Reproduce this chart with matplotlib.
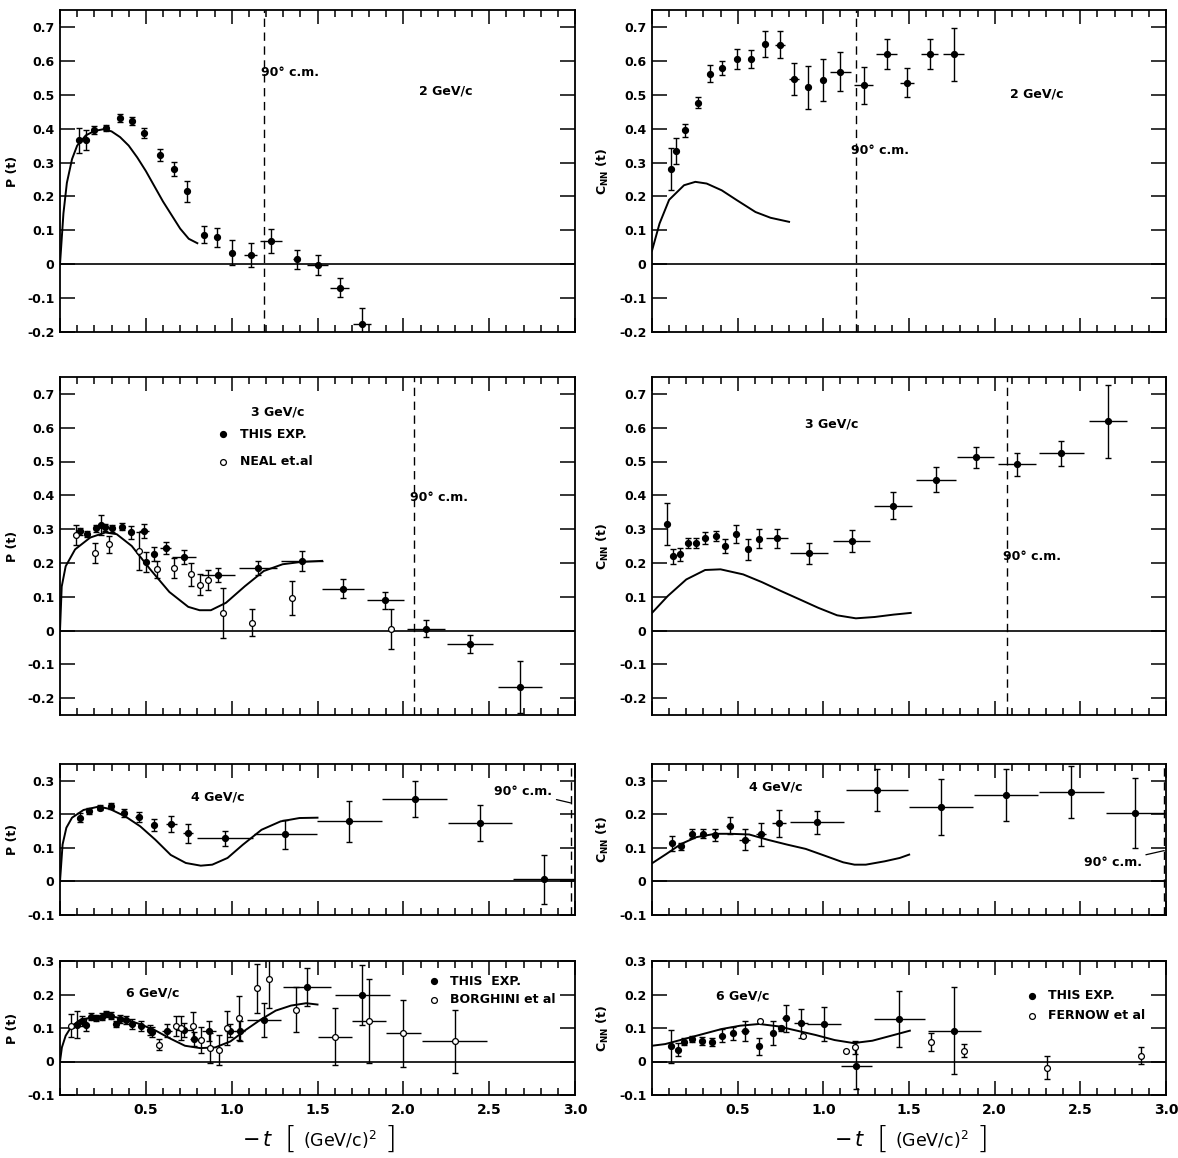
import matplotlib
matplotlib.use('Agg')
import matplotlib.pyplot as plt
from matplotlib.ticker import MultipleLocator, FixedLocator, FuncFormatter

plt.rcParams['font.family'] = ['DejaVu Sans']
plt.rcParams['mathtext.fontset'] = 'dejavusans'

# ---------------- data ----------------
# 2 GeV/c, polarization
p2_t = [0.11, 0.15, 0.20, 0.27, 0.35, 0.42, 0.49, 0.58, 0.665, 0.74, 0.84, 0.915, 1.0, 1.11, 1.23, 1.38, 1.50, 1.63, 1.76]
p2_p = [0.365, 0.367, 0.396, 0.402, 0.432, 0.422, 0.386, 0.323, 0.281, 0.215, 0.087, 0.079, 0.034, 0.028, 0.069, 0.015, -0.002, -0.069, -0.175]
p2_dp = [0.038, 0.03, 0.012, 0.01, 0.012, 0.012, 0.015, 0.018, 0.022, 0.03, 0.025, 0.028, 0.037, 0.035, 0.035, 0.028, 0.03, 0.027, 0.045]
p2_dt = [0.0, 0.015, 0.015, 0.015, 0.015, 0.015, 0.015, 0.015, 0.015, 0.015, 0.015, 0.015, 0.015, 0.04, 0.064, 0.02, 0.064, 0.055, 0.053]
p2_th_t = [0.0, 0.02, 0.04, 0.07, 0.10, 0.15, 0.20, 0.25, 0.30, 0.35, 0.40, 0.45, 0.50, 0.55, 0.60, 0.65, 0.70, 0.75, 0.80]
p2_th_p = [0.0, 0.15, 0.24, 0.31, 0.35, 0.38, 0.393, 0.398, 0.392, 0.375, 0.35, 0.315, 0.275, 0.23, 0.185, 0.145, 0.105, 0.075, 0.062]

# 2 GeV/c, C_NN
c2_t = [0.11, 0.14, 0.193, 0.27, 0.336, 0.41, 0.494, 0.578, 0.66, 0.745, 0.83, 0.91, 0.998, 1.10, 1.235, 1.37, 1.49, 1.62, 1.76]
c2_c = [0.28, 0.334, 0.395, 0.477, 0.562, 0.579, 0.606, 0.606, 0.65, 0.647, 0.547, 0.522, 0.543, 0.568, 0.528, 0.62, 0.535, 0.62, 0.62]
c2_dc = [0.062, 0.037, 0.02, 0.017, 0.025, 0.022, 0.029, 0.027, 0.038, 0.04, 0.048, 0.064, 0.062, 0.058, 0.055, 0.043, 0.043, 0.043, 0.078]
c2_dt = [0.0, 0.015, 0.015, 0.015, 0.015, 0.015, 0.015, 0.015, 0.015, 0.03, 0.03, 0.015, 0.015, 0.064, 0.055, 0.06, 0.04, 0.05, 0.06]
c2_th_t = [0.0, 0.044, 0.10, 0.187, 0.253, 0.319, 0.407, 0.495, 0.604, 0.692, 0.80]
c2_th_c = [0.04, 0.12, 0.19, 0.233, 0.243, 0.238, 0.218, 0.189, 0.154, 0.137, 0.125]

# 3 GeV/c, polarization
p3_t = [0.114, 0.158, 0.209, 0.237, 0.26, 0.303, 0.363, 0.413, 0.488, 0.50, 0.55, 0.615, 0.72, 0.919, 1.154, 1.41, 1.648, 1.894, 2.13, 2.39, 2.68]
p3_p = [0.293, 0.285, 0.302, 0.313, 0.305, 0.302, 0.307, 0.29, 0.295, 0.203, 0.226, 0.245, 0.218, 0.164, 0.185, 0.206, 0.124, 0.09, 0.005, -0.04, -0.167]
p3_dp = [0.01, 0.008, 0.01, 0.03, 0.01, 0.01, 0.01, 0.02, 0.02, 0.03, 0.02, 0.018, 0.02, 0.02, 0.022, 0.03, 0.027, 0.025, 0.025, 0.027, 0.078]
p3_dt = [0.015, 0.015, 0.015, 0.015, 0.015, 0.015, 0.015, 0.015, 0.03, 0.015, 0.015, 0.03, 0.07, 0.1, 0.11, 0.12, 0.12, 0.107, 0.11, 0.135, 0.13]
neal_t = [0.095, 0.204, 0.286, 0.46, 0.567, 0.666, 0.765, 0.813, 0.864, 0.952, 1.12, 1.354, 1.928]
neal_p = [0.283, 0.23, 0.255, 0.235, 0.181, 0.184, 0.166, 0.136, 0.149, 0.052, 0.023, 0.095, 0.005]
neal_dp = [0.03, 0.03, 0.025, 0.055, 0.025, 0.03, 0.035, 0.03, 0.03, 0.075, 0.04, 0.05, 0.06]
p3_th_t = [0.0, 0.01, 0.033, 0.088, 0.176, 0.264, 0.33, 0.418, 0.527, 0.637, 0.747, 0.813, 0.879, 0.967, 1.077, 1.187, 1.297, 1.407, 1.527]
p3_th_p = [0.0, 0.13, 0.19, 0.24, 0.275, 0.29, 0.285, 0.25, 0.18, 0.114, 0.07, 0.06, 0.06, 0.082, 0.131, 0.176, 0.196, 0.203, 0.206]

# 3 GeV/c, C_NN
c3_t = [0.088, 0.125, 0.165, 0.209, 0.257, 0.308, 0.374, 0.426, 0.488, 0.558, 0.624, 0.73, 0.917, 1.165, 1.407, 1.657, 1.89, 2.13, 2.39, 2.66]
c3_c = [0.315, 0.22, 0.225, 0.26, 0.26, 0.273, 0.28, 0.25, 0.285, 0.24, 0.272, 0.273, 0.228, 0.265, 0.369, 0.446, 0.512, 0.492, 0.524, 0.619]
c3_dc = [0.063, 0.022, 0.018, 0.015, 0.015, 0.018, 0.015, 0.02, 0.027, 0.03, 0.028, 0.028, 0.03, 0.033, 0.04, 0.037, 0.032, 0.034, 0.037, 0.108]
c3_dt = [0.0, 0.015, 0.015, 0.015, 0.015, 0.015, 0.015, 0.015, 0.015, 0.015, 0.015, 0.065, 0.11, 0.11, 0.11, 0.115, 0.107, 0.11, 0.13, 0.11]
c3_th_t = [0.0, 0.092, 0.20, 0.31, 0.40, 0.532, 0.642, 0.752, 0.862, 0.971, 1.08, 1.19, 1.30, 1.41, 1.51]
c3_th_c = [0.052, 0.102, 0.151, 0.179, 0.181, 0.166, 0.143, 0.117, 0.092, 0.067, 0.045, 0.036, 0.04, 0.047, 0.052]

# 4 GeV/c, polarization
p4_t = [0.119, 0.17, 0.232, 0.298, 0.375, 0.459, 0.547, 0.649, 0.746, 0.962, 1.313, 1.686, 2.066, 2.448, 2.819]
p4_p = [0.19, 0.21, 0.22, 0.225, 0.205, 0.193, 0.169, 0.171, 0.143, 0.129, 0.141, 0.179, 0.246, 0.174, 0.007]
p4_dp = [0.013, 0.01, 0.008, 0.01, 0.012, 0.015, 0.018, 0.024, 0.027, 0.022, 0.043, 0.062, 0.053, 0.054, 0.073]
p4_dt = [0.01, 0.01, 0.01, 0.01, 0.015, 0.02, 0.015, 0.03, 0.03, 0.165, 0.185, 0.187, 0.188, 0.187, 0.18]
p4_th_t = [0.0, 0.015, 0.037, 0.07, 0.137, 0.225, 0.29, 0.38, 0.468, 0.556, 0.645, 0.733, 0.82, 0.887, 0.976, 1.064, 1.174, 1.285, 1.395, 1.50]
p4_th_p = [0.0, 0.11, 0.16, 0.19, 0.213, 0.223, 0.216, 0.194, 0.164, 0.124, 0.079, 0.055, 0.047, 0.05, 0.07, 0.109, 0.154, 0.179, 0.189, 0.19]

# 4 GeV/c, C_NN
c4_t = [0.116, 0.171, 0.233, 0.299, 0.369, 0.453, 0.54, 0.637, 0.743, 0.963, 1.314, 1.688, 2.066, 2.448, 2.82]
c4_c = [0.114, 0.105, 0.142, 0.142, 0.139, 0.166, 0.125, 0.14, 0.173, 0.176, 0.272, 0.221, 0.258, 0.267, 0.204]
c4_dc = [0.022, 0.01, 0.013, 0.013, 0.017, 0.025, 0.03, 0.035, 0.04, 0.034, 0.062, 0.084, 0.077, 0.078, 0.103]
c4_dt = [0.01, 0.015, 0.01, 0.01, 0.01, 0.02, 0.03, 0.03, 0.04, 0.157, 0.18, 0.187, 0.189, 0.189, 0.17]
c4_th_t = [0.0, 0.084, 0.171, 0.259, 0.369, 0.457, 0.567, 0.677, 0.787, 0.897, 1.007, 1.116, 1.182, 1.248, 1.358, 1.446, 1.501]
c4_th_c = [0.054, 0.082, 0.112, 0.132, 0.142, 0.142, 0.14, 0.124, 0.11, 0.097, 0.077, 0.057, 0.05, 0.05, 0.06, 0.07, 0.08]

# 6 GeV/c, polarization
p6_t = [0.10, 0.128, 0.15, 0.181, 0.21, 0.243, 0.27, 0.298, 0.326, 0.348, 0.386, 0.419, 0.474, 0.523, 0.536, 0.622, 0.724, 0.783, 0.867, 0.993, 1.048, 1.187, 1.44, 1.76]
p6_p = [0.11, 0.122, 0.11, 0.134, 0.13, 0.134, 0.142, 0.137, 0.112, 0.127, 0.125, 0.112, 0.107, 0.094, 0.087, 0.092, 0.094, 0.067, 0.092, 0.092, 0.092, 0.124, 0.223, 0.198]
p6_dp = [0.04, 0.015, 0.02, 0.01, 0.01, 0.01, 0.01, 0.01, 0.01, 0.012, 0.012, 0.015, 0.015, 0.015, 0.015, 0.02, 0.02, 0.02, 0.03, 0.02, 0.03, 0.05, 0.057, 0.09]
p6_dt = [0.01, 0.01, 0.01, 0.01, 0.01, 0.01, 0.01, 0.01, 0.01, 0.01, 0.01, 0.01, 0.01, 0.015, 0.015, 0.03, 0.05, 0.02, 0.04, 0.03, 0.03, 0.1, 0.14, 0.16]
borg_t = [0.066, 0.574, 0.675, 0.706, 0.772, 0.823, 0.876, 0.926, 0.975, 1.043, 1.147, 1.22, 1.374, 1.6, 1.8, 2.0, 2.3]
borg_p = [0.107, 0.05, 0.107, 0.1, 0.107, 0.064, 0.04, 0.034, 0.1, 0.13, 0.218, 0.245, 0.155, 0.074, 0.12, 0.084, 0.06]
borg_dp = [0.035, 0.017, 0.03, 0.035, 0.04, 0.04, 0.045, 0.045, 0.05, 0.065, 0.072, 0.085, 0.067, 0.085, 0.125, 0.1, 0.093]
borg_dt = [0.0, 0.0, 0.0, 0.0, 0.0, 0.0, 0.0, 0.0, 0.0, 0.0, 0.0, 0.0, 0.0, 0.1, 0.1, 0.1, 0.19]
p6_th_t = [0.0, 0.011, 0.033, 0.066, 0.11, 0.2, 0.287, 0.375, 0.463, 0.551, 0.64, 0.728, 0.816, 0.904, 0.993, 1.081, 1.169, 1.257, 1.346, 1.434, 1.50]
p6_th_p = [0.0, 0.042, 0.077, 0.104, 0.122, 0.134, 0.136, 0.127, 0.112, 0.094, 0.069, 0.047, 0.04, 0.042, 0.06, 0.094, 0.125, 0.152, 0.167, 0.174, 0.17]

# 6 GeV/c, C_NN
c6_t = [0.11, 0.154, 0.187, 0.235, 0.29, 0.352, 0.41, 0.473, 0.543, 0.626, 0.708, 0.754, 0.78, 0.868, 1.004, 1.193, 1.444, 1.765]
c6_c = [0.045, 0.035, 0.059, 0.067, 0.062, 0.059, 0.077, 0.084, 0.092, 0.045, 0.085, 0.099, 0.129, 0.114, 0.112, -0.013, 0.127, 0.092]
c6_dc = [0.05, 0.02, 0.01, 0.01, 0.012, 0.012, 0.02, 0.02, 0.03, 0.025, 0.035, 0.008, 0.04, 0.043, 0.05, 0.07, 0.083, 0.13]
c6_dt = [0.01, 0.01, 0.01, 0.01, 0.01, 0.01, 0.01, 0.01, 0.025, 0.01, 0.01, 0.01, 0.02, 0.04, 0.1, 0.09, 0.15, 0.155]
fern_t = [0.63, 0.884, 1.132, 1.187, 1.63, 1.822, 2.308, 2.857]
fern_c = [0.122, 0.075, 0.032, 0.042, 0.059, 0.032, -0.018, 0.017]
fern_dc = [0.0, 0.0, 0.0, 0.02, 0.027, 0.02, 0.035, 0.025]
c6_th_t = [0.0, 0.077, 0.187, 0.297, 0.407, 0.516, 0.626, 0.736, 0.846, 0.956, 1.066, 1.176, 1.286, 1.396, 1.505]
c6_th_c = [0.047, 0.052, 0.067, 0.082, 0.097, 0.107, 0.112, 0.105, 0.092, 0.079, 0.064, 0.055, 0.062, 0.077, 0.092]

W, H = 1178, 1158
fig = plt.figure(figsize=(W / 100, H / 100), dpi=100)

col_x = [60, 652]
col_w = [515, 514]
rows = [(10, 332), (377, 715), (764, 915), (961, 1095)]
ylims = [(-0.2, 0.75), (-0.25, 0.75), (-0.1, 0.35), (-0.1, 0.3)]
FS = 9


def yfmt(v, pos):
    if abs(v) < 1e-9:
        return '0'
    return ('%.1f' % v)


def make_ax(row, col):
    top, bot = rows[row]
    ax = fig.add_axes([col_x[col] / W, 1 - bot / H, col_w[col] / W, (bot - top) / H])
    ax.set_xlim(0, 3.0)
    ax.set_ylim(*ylims[row])
    lo = ylims[row][0]
    start = -0.2 if lo < -0.2 else lo
    yt = [round(start + 0.1 * i, 1) for i in range(int(round((ylims[row][1] - start) / 0.1)) + 1)]
    yt = [v for v in yt if v <= ylims[row][1] + 1e-6]
    ax.yaxis.set_major_locator(FixedLocator(yt))
    ax.yaxis.set_major_formatter(FuncFormatter(yfmt))
    ax.xaxis.set_major_locator(MultipleLocator(0.5))
    ax.xaxis.set_minor_locator(MultipleLocator(0.1))
    ax.tick_params(axis='both', which='both', direction='in', top=True, right=True, width=1.1)
    ax.tick_params(axis='y', which='major', length=11, labelsize=FS, pad=4)
    ax.tick_params(axis='x', which='major', length=10, labelsize=FS + 1, pad=6)
    ax.tick_params(axis='x', which='minor', length=5)
    for lab in ax.get_yticklabels() + ax.get_xticklabels():
        lab.set_fontweight('bold')
    if row < 3:
        ax.set_xticklabels([])
    else:
        ax.set_xticks([0.5, 1.0, 1.5, 2.0, 2.5, 3.0])
        ax.set_xticklabels(['0.5', '1.0', '1.5', '2.0', '2.5', '3.0'], fontweight='bold')
    for s in ax.spines.values():
        s.set_linewidth(1.3)
    ax.axhline(0, color='k', lw=1.2)
    if col == 0:
        ax.set_ylabel('P (t)', fontsize=FS, fontweight='bold', labelpad=6)
    else:
        ax.set_ylabel(r'C$_{\mathbf{NN}}$ (t)', fontsize=FS, fontweight='bold', labelpad=6)
    return ax


def points(ax, t, v, dv, dt=None, filled=True):
    ax.errorbar(t, v, yerr=dv, fmt='none', ecolor='k', elinewidth=1.0, capsize=2.5, capthick=1.0)
    if dt is not None:
        ax.errorbar(t, v, xerr=dt, fmt='none', ecolor='k', elinewidth=1.0, capsize=0)
    if filled:
        ax.plot(t, v, 'o', color='k', ms=4.2, zorder=5)
    else:
        ax.plot(t, v, 'o', mfc='white', mec='k', mew=0.9, ms=4.2, zorder=5)


def cm90(ax, x):
    ax.axvline(x, color='k', lw=1.0, ls=(0, (6, 4)))


def label(ax, x, y, s):
    ax.text(x, y, s, fontsize=FS, fontweight='bold', ha='left', va='center')


# row 1
ax = make_ax(0, 0)
points(ax, p2_t, p2_p, p2_dp, p2_dt)
ax.plot(p2_th_t, p2_th_p, color='k', lw=1.4)
cm90(ax, 1.19)
label(ax, 1.17, 0.565, '90° c.m.')
label(ax, 2.09, 0.51, '2 GeV/c')

ax = make_ax(0, 1)
points(ax, c2_t, c2_c, c2_dc, c2_dt)
ax.plot(c2_th_t, c2_th_c, color='k', lw=1.4)
cm90(ax, 1.19)
label(ax, 1.16, 0.336, '90° c.m.')
label(ax, 2.09, 0.503, '2 GeV/c')

# row 2
ax = make_ax(1, 0)
points(ax, p3_t, p3_p, p3_dp, p3_dt)
points(ax, neal_t, neal_p, neal_dp, None, filled=False)
ax.plot(p3_th_t, p3_th_p, color='k', lw=1.4)
cm90(ax, 2.06)
label(ax, 2.04, 0.394, '90° c.m.')
label(ax, 1.11, 0.646, '3 GeV/c')
ax.plot([0.95], [0.58], 'o', color='k', ms=4.2)
label(ax, 1.05, 0.58, 'THIS EXP.')
ax.plot([0.95], [0.50], 'o', mfc='white', mec='k', mew=0.9, ms=4.2)
label(ax, 1.05, 0.50, 'NEAL et.al')

ax = make_ax(1, 1)
points(ax, c3_t, c3_c, c3_dc, c3_dt)
ax.plot(c3_th_t, c3_th_c, color='k', lw=1.4)
cm90(ax, 2.07)
label(ax, 2.05, 0.22, '90° c.m.')
label(ax, 0.895, 0.611, '3 GeV/c')

# row 3
ax = make_ax(2, 0)
points(ax, p4_t, p4_p, p4_dp, p4_dt)
ax.plot(p4_th_t, p4_th_p, color='k', lw=1.4)
cm90(ax, 2.975)
label(ax, 0.765, 0.253, '4 GeV/c')
ax.annotate('90° c.m.', xy=(2.975, 0.234), xytext=(2.53, 0.267), fontsize=FS, fontweight='bold',
            va='center', arrowprops=dict(arrowstyle='-', color='k', lw=0.9, shrinkA=1, shrinkB=0))

ax = make_ax(2, 1)
points(ax, c4_t, c4_c, c4_dc, c4_dt)
ax.plot(c4_th_t, c4_th_c, color='k', lw=1.4)
cm90(ax, 2.99)
label(ax, 0.565, 0.28, '4 GeV/c')
ax.annotate('90° c.m.', xy=(2.99, 0.092), xytext=(2.52, 0.057), fontsize=FS, fontweight='bold',
            va='center', arrowprops=dict(arrowstyle='-', color='k', lw=0.9, shrinkA=1, shrinkB=0))

# row 4
ax = make_ax(3, 0)
points(ax, p6_t, p6_p, p6_dp, p6_dt)
points(ax, borg_t, borg_p, borg_dp, borg_dt, filled=False)
ax.plot(p6_th_t, p6_th_p, color='k', lw=1.4)
label(ax, 0.386, 0.203, '6 GeV/c')
ax.plot([2.18], [0.24], 'o', color='k', ms=4.2)
label(ax, 2.27, 0.24, 'THIS  EXP.')
ax.plot([2.18], [0.185], 'o', mfc='white', mec='k', mew=0.9, ms=4.2)
label(ax, 2.27, 0.185, 'BORGHINI et al')

ax = make_ax(3, 1)
points(ax, c6_t, c6_c, c6_dc, c6_dt)
points(ax, fern_t, fern_c, fern_dc, None, filled=False)
ax.plot(c6_th_t, c6_th_c, color='k', lw=1.4)
label(ax, 0.374, 0.195, '6 GeV/c')
ax.plot([2.22], [0.197], 'o', color='k', ms=4.2)
label(ax, 2.31, 0.197, 'THIS EXP.')
ax.plot([2.22], [0.137], 'o', mfc='white', mec='k', mew=0.9, ms=4.2)
label(ax, 2.31, 0.137, 'FERNOW et al')

# x-axis titles, pieced together so the square brackets come out tall
for cx in (0, 592):
    yy = 1 - 1140 / H
    fig.text((cx + 258) / W, yy, r'$-\,t$', fontsize=15, ha='center', va='center')
    fig.text((cx + 290) / W, yy + 0.001, '[', fontsize=22, fontweight='light', ha='center', va='center')
    fig.text((cx + 340) / W, yy, r'(GeV/c)$^{2}$', fontsize=12.5, ha='center', va='center')
    fig.text((cx + 390) / W, yy + 0.001, ']', fontsize=22, fontweight='light', ha='center', va='center')

fig.savefig('out.png', dpi=100)
